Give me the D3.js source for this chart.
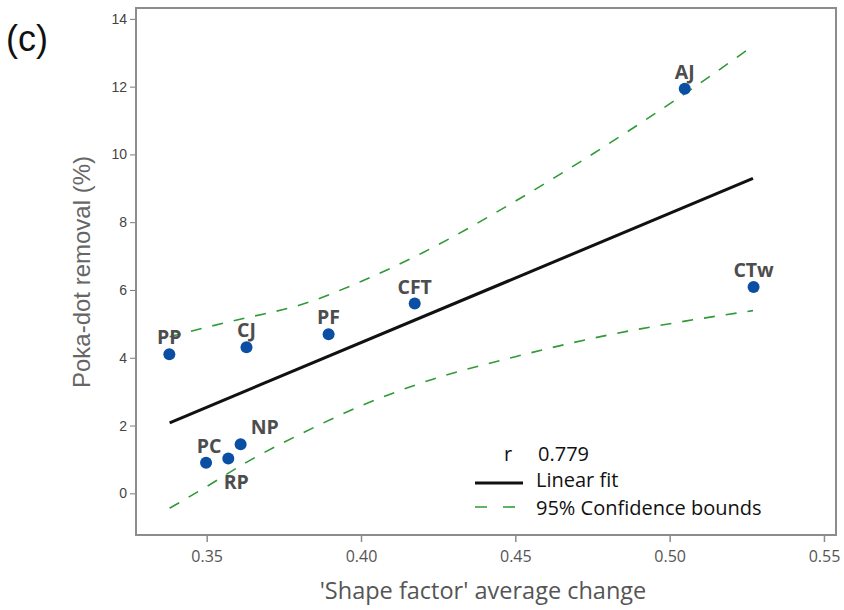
<!DOCTYPE html>
<html>
<head>
<meta charset="utf-8">
<script src="https://cdn.jsdelivr.net/npm/d3@7"></script>
<style>
  html, body { margin: 0; padding: 0; background: #fff; }
  svg { display: block; }
</style>
</head>
<body>
<svg id="chart" width="844" height="610"></svg>
<script>
// ---- data ----
const names   = ["PP", "CJ", "PF", "CFT", "AJ", "CTw", "PC", "RP", "NP"];
const shapeChange = [0.3379, 0.3629, 0.3895, 0.4174, 0.5049, 0.5272, 0.3498, 0.3570, 0.3610];
const dotRemoval  = [4.10, 4.31, 4.69, 5.60, 11.94, 6.09, 0.90, 1.03, 1.45];

const fitX = [0.338, 0.527];
const fitY = [2.08, 9.29];

const boundX     = [0.338, 0.350, 0.363, 0.380, 0.400, 0.420, 0.450, 0.480, 0.505, 0.527];
const upperBound = [4.62, 4.90, 5.18, 5.55, 6.25, 7.10, 8.62, 10.30, 11.80, 13.20];
const lowerBound = [-0.44, 0.20, 0.92, 1.73, 2.58, 3.27, 4.03, 4.67, 5.08, 5.39];

const xTicks = [0.35, 0.40, 0.45, 0.50, 0.55];
const yTicks = [0, 2, 4, 6, 8, 10, 12, 14];

const rValue = "0.779";
const legendLabels = ["Linear fit", "95% Confidence bounds"];

// ---- layout ----
const svg = d3.select("#chart");
const L = 136, R = 836, T = 8, B = 535;

const x = d3.scaleLinear().domain([0.3271, 0.5539]).range([L, R]);
const y = d3.scaleLinear().domain([-1.23, 14.32]).range([B, T]);

// label placement (name -> where)
const placement = { NP: "right", RP: "below", PC: "abovePC" };

// frame
svg.append("rect")
  .attr("x", L).attr("y", T).attr("width", R - L).attr("height", B - T)
  .attr("fill", "none").attr("stroke", "#8c8c8c").attr("stroke-width", 2);

// y axis
const yAxis = d3.axisLeft(y).tickValues(yTicks).tickSize(5).tickPadding(3).tickFormat(d3.format("d"));
const gy = svg.append("g").attr("transform", `translate(${L - 1},0)`).call(yAxis);
gy.select(".domain").remove();
gy.selectAll(".tick line").attr("stroke", "#7a7a7a").attr("stroke-width", 1);
gy.selectAll(".tick text")
  .attr("fill", "#444").style("font-family", "'Liberation Sans', Arial, sans-serif").style("font-size", "14px");

// x axis
const xAxis = d3.axisBottom(x).tickValues(xTicks).tickSize(6).tickPadding(9).tickFormat(d3.format(".2f"));
const gx = svg.append("g").attr("transform", `translate(0,${B + 1})`).call(xAxis);
gx.select(".domain").remove();
gx.selectAll(".tick line").attr("stroke", "#8c8c8c").attr("stroke-width", 1.5);
gx.selectAll(".tick text")
  .attr("fill", "#555").style("font-family", "'Open Sans', sans-serif").style("font-size", "16px");

// axis titles
svg.append("text")
  .attr("x", 483).attr("y", 599)
  .attr("text-anchor", "middle")
  .attr("fill", "#555")
  .style("font-family", "'Open Sans', sans-serif").style("font-size", "23.5px")
  .text("'Shape factor' average change");

svg.append("text")
  .attr("transform", "translate(90,272) rotate(-90)")
  .attr("text-anchor", "middle")
  .attr("fill", "#666")
  .style("font-family", "'Liberation Sans', Arial, sans-serif").style("font-size", "24px")
  .text("Poka-dot removal (%)");

// panel label
svg.append("text")
  .attr("x", 6).attr("y", 51)
  .attr("fill", "#111")
  .style("font-family", "'Liberation Sans', Arial, sans-serif").style("font-size", "36px")
  .text("(c)");

// confidence bounds
const boundLine = d3.line().curve(d3.curveMonotoneX).x(d => x(d[0])).y(d => y(d[1]));
[upperBound, lowerBound].forEach(arr => {
  svg.append("path")
    .datum(boundX.map((bx, i) => [bx, arr[i]]))
    .attr("d", boundLine)
    .attr("fill", "none")
    .attr("stroke", "#2f9a36")
    .attr("stroke-width", 1.6)
    .attr("stroke-dasharray", "11,11");
});

// linear fit
svg.append("path")
  .datum(fitX.map((fx, i) => [fx, fitY[i]]))
  .attr("d", d3.line().x(d => x(d[0])).y(d => y(d[1])))
  .attr("fill", "none").attr("stroke", "#111").attr("stroke-width", 3);

// points
const pts = names.map((n, i) => ({ name: n, x: shapeChange[i], y: dotRemoval[i] }));
svg.append("g").selectAll("circle").data(pts).join("circle")
  .attr("cx", d => x(d.x)).attr("cy", d => y(d.y)).attr("r", 6)
  .attr("fill", "#0a4fa4");

svg.append("g").selectAll("text").data(pts).join("text")
  .attr("x", d => {
    const p = placement[d.name];
    if (p === "right") return x(d.x) + 10;
    if (p === "below") return x(d.x) + 8;
    if (p === "abovePC") return x(d.x) + 3;
    return x(d.x);
  })
  .attr("y", d => {
    const p = placement[d.name];
    if (p === "below") return y(d.y) + 31;
    return y(d.y) - 10;
  })
  .attr("text-anchor", d => placement[d.name] === "right" ? "start" : "middle")
  .attr("fill", "#4d4d4d")
  .style("font-family", "'Open Sans', sans-serif").style("font-size", "19.5px").style("font-weight", 700)
  .text(d => d.name);

// legend
const lg = svg.append("g").style("font-family", "'Open Sans', sans-serif").style("font-size", "20px").attr("fill", "#111");
lg.append("text").attr("x", 508).attr("y", 461).attr("text-anchor", "middle").text("r");
lg.append("text").attr("x", 538).attr("y", 461).text(rValue);
lg.append("line").attr("x1", 475).attr("x2", 523).attr("y1", 483).attr("y2", 483)
  .attr("stroke", "#111").attr("stroke-width", 3);
lg.append("text").attr("x", 536).attr("y", 487).text(legendLabels[0]);
lg.append("line").attr("x1", 475).attr("x2", 521).attr("y1", 507).attr("y2", 507)
  .attr("stroke", "#2f9a36").attr("stroke-width", 1.6).attr("stroke-dasharray", "12,16");
lg.append("text").attr("x", 536).attr("y", 515).text(legendLabels[1]);
</script>
</body>
</html>
